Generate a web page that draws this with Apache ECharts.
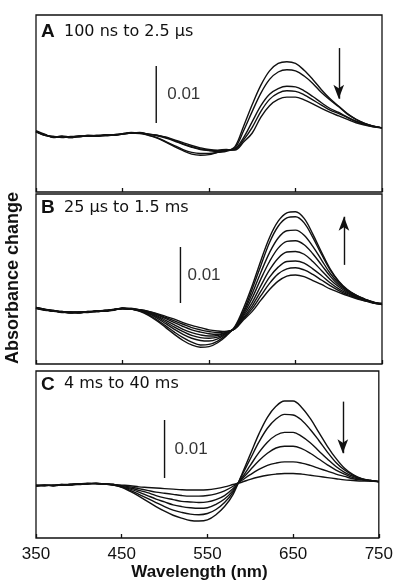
<!DOCTYPE html>
<html>
<head>
<meta charset="utf-8">
<script src="https://cdn.jsdelivr.net/npm/echarts@6/dist/echarts.min.js"></script>
<style>html,body{margin:0;padding:0;background:#fff}#c{width:396px;height:583px}</style>
</head>
<body>
<div id="c"></div>
<script>
// Wavelength grid (nm)
const wavelengths = [350,360,370,380,390,400,410,420,430,440,450,460,470,480,490,500,510,520,530,540,550,560,570,580,590,600,610,620,630,640,650,660,670,680,690,700,710,720,730,740,750];
const xTicks = [350,450,550,650,750];
// Absorbance change, units of 0.001
// Panel A: 100 ns to 2.5 us
const a1 = [0.3,-0.3,-0.7,-0.6,-0.8,-0.6,-0.5,-0.6,-0.4,-0.4,-0.2,0.0,0.0,-0.4,-0.9,-1.6,-2.4,-3.1,-3.7,-3.9,-3.8,-3.4,-3.2,-2.4,1.2,5.0,8.4,10.9,12.2,12.5,12.2,11.0,9.4,7.6,6.0,4.7,3.4,2.4,1.7,1.2,0.9];
const a2 = [0.2,-0.4,-0.6,-0.7,-0.7,-0.5,-0.6,-0.5,-0.4,-0.3,-0.2,0.0,-0.1,-0.4,-0.8,-1.5,-2.2,-2.9,-3.4,-3.6,-3.6,-3.4,-3.1,-2.6,0.4,3.8,7.0,9.4,10.7,11.1,10.9,10.0,8.7,7.1,5.8,4.6,3.3,2.4,1.7,1.2,0.9];
const a3 = [0.4,-0.2,-0.8,-0.5,-0.7,-0.7,-0.4,-0.5,-0.5,-0.3,-0.1,0.1,0.0,-0.2,-0.5,-0.9,-1.4,-2.0,-2.5,-2.9,-3.1,-3.2,-3.1,-2.8,-0.8,2.0,4.8,6.8,7.8,8.2,8.1,7.4,6.4,5.3,4.3,3.6,2.8,2.1,1.6,1.2,0.9];
const a4 = [0.3,-0.4,-0.6,-0.8,-0.6,-0.6,-0.6,-0.4,-0.4,-0.4,-0.2,0.0,0.1,-0.2,-0.4,-0.8,-1.3,-1.9,-2.4,-2.8,-3.0,-3.1,-3.0,-2.9,-1.2,1.0,3.8,5.9,7.0,7.4,7.3,6.7,5.8,4.9,4.0,3.4,2.7,2.0,1.5,1.1,0.9];
const a5 = [0.2,-0.3,-0.7,-0.7,-0.8,-0.5,-0.5,-0.6,-0.3,-0.4,-0.1,0.0,0.0,-0.2,-0.4,-0.7,-1.2,-1.7,-2.2,-2.6,-2.9,-3.0,-2.9,-3.0,-1.6,0.0,2.8,4.8,5.9,6.3,6.3,5.8,5.1,4.3,3.6,3.0,2.4,1.8,1.4,1.1,0.9];
// Panel B: 25 us to 1.5 ms
const b1 = [0.0,-0.3,-0.5,-0.7,-0.8,-0.8,-0.7,-0.6,-0.5,-0.3,-0.1,-0.2,-0.6,-1.3,-2.3,-3.5,-4.7,-5.8,-6.6,-7.0,-6.9,-6.2,-5.0,-3.3,0.0,4.0,8.5,12.6,15.5,17.0,17.2,16.0,13.2,10.0,7.0,4.8,3.3,2.3,1.6,1.0,0.7];
const b2 = [0.1,-0.2,-0.6,-0.6,-0.9,-0.7,-0.8,-0.5,-0.5,-0.2,-0.1,-0.2,-0.5,-1.2,-2.1,-3.2,-4.3,-5.3,-6.1,-6.6,-6.5,-5.9,-4.8,-3.4,-0.5,3.4,7.6,11.7,14.6,16.1,16.3,15.2,12.6,9.6,6.8,4.7,3.2,2.3,1.6,1.0,0.8];
const b3 = [-0.1,-0.3,-0.4,-0.8,-0.7,-0.9,-0.6,-0.7,-0.4,-0.3,0.0,-0.2,-0.5,-1.0,-1.8,-2.8,-3.8,-4.7,-5.4,-5.8,-5.9,-5.5,-4.6,-3.5,-0.8,2.6,6.4,9.9,12.5,13.8,13.9,13.0,11.0,8.6,6.2,4.4,3.1,2.2,1.5,1.1,0.6];
const b4 = [0.0,-0.4,-0.5,-0.7,-0.8,-0.7,-0.7,-0.6,-0.6,-0.3,-0.1,-0.2,-0.4,-0.9,-1.6,-2.5,-3.4,-4.2,-4.9,-5.3,-5.4,-5.2,-4.5,-3.6,-1.1,1.8,5.2,8.3,10.7,11.9,12.0,11.3,9.7,7.7,5.7,4.1,3.0,2.1,1.5,0.9,0.7];
const b5 = [0.1,-0.3,-0.5,-0.6,-0.8,-0.8,-0.6,-0.6,-0.5,-0.4,-0.1,-0.2,-0.4,-0.8,-1.4,-2.2,-3.0,-3.8,-4.4,-4.8,-5.0,-4.9,-4.4,-3.6,-1.4,1.0,4.0,6.8,8.9,10.0,10.1,9.6,8.3,6.7,5.1,3.8,2.8,2.0,1.4,1.0,0.8];
const b6 = [0.0,-0.2,-0.5,-0.7,-0.7,-0.8,-0.7,-0.5,-0.5,-0.3,-0.1,-0.2,-0.4,-0.7,-1.2,-1.9,-2.6,-3.3,-3.9,-4.3,-4.6,-4.7,-4.3,-3.7,-1.7,0.4,3.0,5.5,7.3,8.3,8.4,8.0,7.0,5.8,4.5,3.4,2.6,1.9,1.4,0.9,0.7];
const b7 = [0.0,-0.3,-0.6,-0.7,-0.8,-0.8,-0.7,-0.6,-0.4,-0.3,-0.1,-0.1,-0.3,-0.6,-1.1,-1.7,-2.3,-2.9,-3.5,-3.9,-4.2,-4.4,-4.2,-3.7,-1.9,-0.1,2.2,4.4,6.1,7.0,7.2,6.8,6.0,5.0,4.0,3.1,2.4,1.8,1.3,1.0,0.6];
const b8 = [0.0,-0.3,-0.5,-0.7,-0.8,-0.8,-0.7,-0.6,-0.5,-0.3,-0.1,-0.1,-0.3,-0.6,-1.0,-1.5,-2.0,-2.6,-3.1,-3.5,-3.9,-4.1,-4.2,-3.7,-2.1,-0.6,1.4,3.3,4.8,5.7,5.9,5.6,4.9,4.2,3.4,2.8,2.2,1.7,1.3,0.9,0.7];
// Panel C: 4 ms to 40 ms
const c1 = [0.0,0.1,0.0,0.1,0.2,0.3,0.4,0.4,0.3,0.1,-0.3,-1.0,-1.8,-2.7,-3.6,-4.4,-5.1,-5.6,-6.0,-6.1,-5.9,-5.0,-3.6,-1.5,1.9,5.4,8.9,11.8,13.7,14.6,14.6,13.5,11.6,9.2,6.8,4.7,3.0,1.9,1.2,0.9,0.7];
const c2 = [0.1,0.0,0.1,0.2,0.1,0.3,0.3,0.4,0.3,0.1,-0.2,-0.8,-1.5,-2.2,-2.9,-3.6,-4.2,-4.6,-4.9,-5.0,-4.8,-4.1,-2.9,-1.1,1.7,4.6,7.5,9.9,11.5,12.3,12.2,11.3,9.7,7.8,5.8,4.0,2.7,1.8,1.2,0.9,0.7];
const c3 = [-0.1,0.1,0.0,0.1,0.2,0.2,0.4,0.3,0.3,0.2,-0.2,-0.6,-1.1,-1.7,-2.3,-2.8,-3.3,-3.6,-3.8,-3.9,-3.8,-3.2,-2.3,-0.8,1.3,3.5,5.7,7.5,8.7,9.2,9.2,8.5,7.4,6.0,4.6,3.3,2.3,1.6,1.1,0.9,0.7];
const c4 = [0.0,0.0,0.1,0.1,0.2,0.3,0.3,0.4,0.3,0.2,-0.1,-0.4,-0.8,-1.2,-1.7,-2.1,-2.4,-2.7,-2.8,-2.9,-2.8,-2.4,-1.7,-0.5,1.1,2.7,4.3,5.6,6.5,6.8,6.8,6.4,5.6,4.6,3.6,2.7,2.0,1.4,1.1,0.9,0.7];
const c5 = [0.1,0.1,0.0,0.2,0.2,0.3,0.4,0.4,0.3,0.2,0.0,-0.2,-0.5,-0.8,-1.1,-1.3,-1.5,-1.7,-1.8,-1.8,-1.7,-1.4,-0.9,-0.1,0.9,1.9,2.8,3.5,3.9,4.1,4.1,3.9,3.5,3.0,2.5,2.0,1.6,1.2,1.0,0.8,0.7];
const c6 = [0.0,0.1,0.1,0.1,0.2,0.3,0.3,0.4,0.3,0.2,0.1,0.0,-0.2,-0.3,-0.4,-0.5,-0.6,-0.7,-0.75,-0.75,-0.7,-0.5,-0.2,0.2,0.6,1.1,1.5,1.8,2.0,2.1,2.1,2.0,1.8,1.6,1.4,1.2,1.0,0.9,0.8,0.8,0.7];

const panelA = [a1,a2,a3,a4,a5];
const panelB = [b1,b2,b3,b4,b5,b6,b7,b8];
const panelC = [c1,c2,c3,c4,c5,c6];
const panelTitles = [['A','100 ns to 2.5 \u00b5s'],['B','25 \u00b5s to 1.5 ms'],['C','4 ms to 40 ms']];
// scale bars: [wavelength, bottom, top] (0.01 = 10 units)
const scaleBars = [[489,1.75,11.75],[517,0.9,10.9],[500,1.33,11.33]];
// arrows: [wavelength, start, end]
const arrows = [[700,14.9,6.0],[706,7.7,16.3],[708,14.5,5.6]];

const grids = [
  {left:36, width:346, top:15, height:177},
  {left:36, width:346, top:194, height:170},
  {left:36, width:346, top:371, height:167}
];
const yRanges = [[-10.35,20.7],[-10.0,20.36],[-9.02,19.78]];
const labelOffsets = [11,7,10];

const chart = echarts.init(document.getElementById('c'), null, {renderer:'canvas'});
const series = [];
[panelA,panelB,panelC].forEach((curves,p)=>{
  curves.forEach(arr=>{
    series.push({type:'line', xAxisIndex:p, yAxisIndex:p, showSymbol:false, smooth:0.35,
      lineStyle:{color:'#111', width:1.4}, data: wavelengths.map((w,i)=>[w,arr[i]]), z:2});
  });
  const sb = scaleBars[p], ar = arrows[p];
  series.push({type:'line', xAxisIndex:p, yAxisIndex:p, showSymbol:false,
    lineStyle:{color:'#111', width:1.4}, data:[[sb[0],sb[1]],[sb[0],sb[2]]],
    markLine:{silent:true, symbol:['none','arrow'], symbolSize:[8,14], label:{show:false},
      lineStyle:{color:'#111', width:1.4, type:'solid'},
      data:[[{coord:[ar[0],ar[1]]},{coord:[ar[0],ar[2]]}]]}});
  series.push({type:'scatter', xAxisIndex:p, yAxisIndex:p, symbolSize:0,
    data:[[sb[0],(sb[1]+sb[2])/2]],
    label:{show:true, position:'right', distance:labelOffsets[p], formatter:'0.01', color:'#000',
      fontFamily:'Liberation Sans', fontSize:17}});
});

const titleTops = [32.5, 208.5, 385];
const graphic = [];
panelTitles.forEach((t,p)=>{
  graphic.push({type:'text', left:41, top:titleTops[p]-10, style:{text:t[0], font:'bold 19px "Liberation Sans"', fill:'#111'}});
  graphic.push({type:'text', left:64, top:titleTops[p]-9, style:{text:t[1], font:'16px "DejaVu Sans"', fill:'#111'}});
});
graphic.push({type:'text', x:13, y:278, rotation:Math.PI/2,
  style:{text:'Absorbance change', font:'bold 18px "Liberation Sans"', fill:'#111', align:'center', verticalAlign:'middle'}});

const option = {
  animation:false,
  backgroundColor:'#fff',
  grid: grids.map(g=>Object.assign({show:true, borderColor:'#111', borderWidth:1.3, backgroundColor:'transparent'}, g)),
  xAxis: grids.map((g,p)=>({
    gridIndex:p, type:'value', position:'bottom', min:xTicks[0], max:xTicks[xTicks.length-1], interval:100,
    axisLine:{show:false, onZero:false}, splitLine:{show:false},
    axisTick:{show:true, inside:true, length:4, lineStyle:{color:'#111', width:1.3}},
    axisLabel:{show:p===2, color:'#111', fontFamily:'Liberation Sans', fontSize:17, margin:8},
    name: p===2 ? 'Wavelength (nm)' : '', nameLocation:'middle', nameGap:26,
    nameTextStyle:{color:'#111', fontFamily:'Liberation Sans', fontWeight:'bold', fontSize:17, padding:[0,16,0,0]}
  })),
  yAxis: grids.map((g,p)=>({gridIndex:p, type:'value', min:yRanges[p][0], max:yRanges[p][1], show:false})),
  graphic: graphic,
  series: series
};
chart.setOption(option);
</script>
</body>
</html>
